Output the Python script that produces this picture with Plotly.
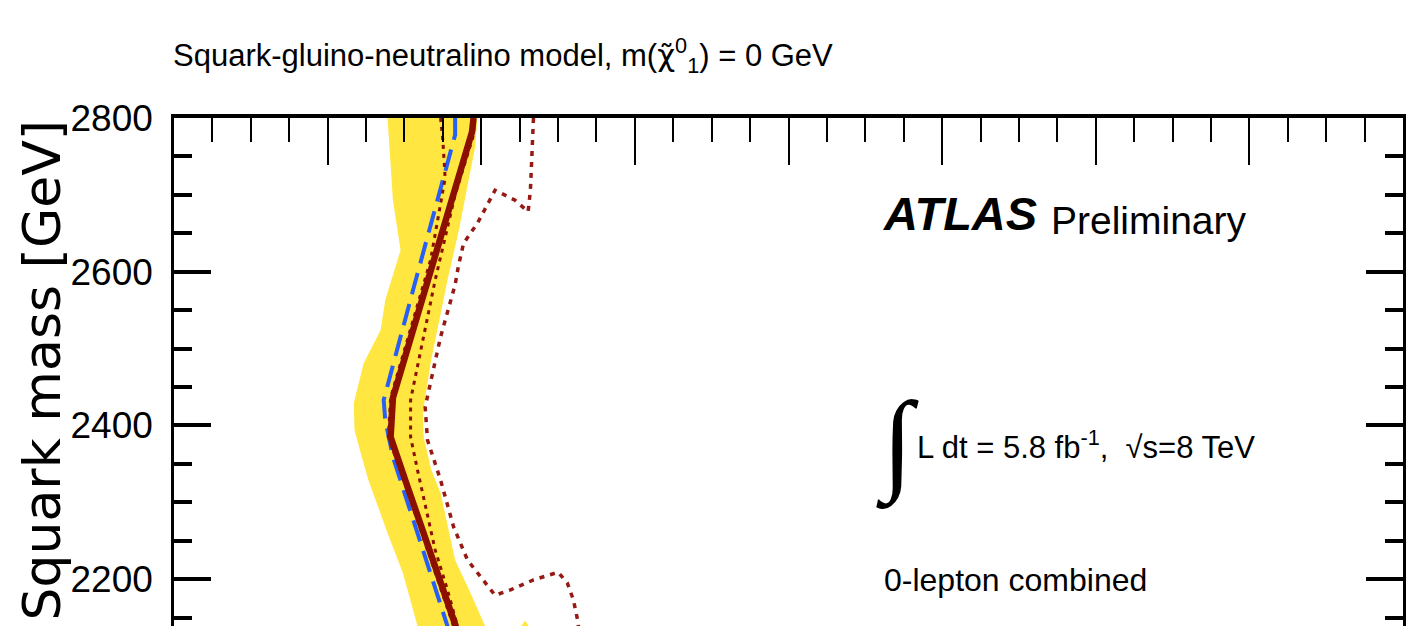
import plotly.graph_objects as go

# ---------------- data (GeV) ----------------
# observed limit (solid)
obs_x = [1190, 1188, 1085, 1082, 1101, 1166, 1173]
obs_y = [2800, 2782, 2436, 2385, 2329, 2139, 2121]
# observed -1 sigma theory (dotted)
obs_dn_x = [1147, 1150, 1153, 1134, 1082, 1079, 1099, 1164, 1170]
obs_dn_y = [2800, 2771, 2722, 2615, 2436, 2385, 2329, 2139, 2121]
# observed +1 sigma theory (dotted)
obs_up_x = [1191, 1190, 1166, 1140, 1108, 1108, 1117, 1130, 1140, 1156, 1169, 1176]
obs_up_y = [2800, 2778, 2700, 2589, 2433, 2385, 2342, 2281, 2238, 2186, 2139, 2121]
# expected limit (dashed)
exp_x = [1166, 1166, 1112, 1073, 1075, 1085, 1156, 1161]
exp_y = [2800, 2778, 2579, 2433, 2407, 2359, 2139, 2121]
# expected +-1 sigma band edges
band_lo_x = [1078, 1085, 1095, 1086, 1075, 1069, 1047, 1034, 1035, 1042, 1053, 1078, 1098, 1117, 1121]
band_lo_y = [2800, 2693, 2628, 2598, 2563, 2524, 2481, 2429, 2394, 2368, 2329, 2260, 2208, 2139, 2121]
band_hi_x = [1195, 1192, 1170, 1156, 1148, 1134, 1124, 1125, 1135, 1147, 1166, 1186, 1205, 1212]
band_hi_y = [2800, 2762, 2650, 2589, 2550, 2481, 2416, 2385, 2342, 2312, 2225, 2182, 2139, 2121]
band_extra_x = [1240, 1257, 1274]
band_extra_y = [2121, 2146, 2121]
# reference dotted contour
ref_x = [1268, 1266, 1264, 1261, 1244, 1218, 1195, 1177, 1170, 1166, 1147, 1127, 1130, 1147, 1164,
         1182, 1199, 1218, 1238, 1268, 1300, 1312, 1320, 1326, 1328]
ref_y = [2800, 2758, 2706, 2678, 2693, 2706, 2663, 2637, 2606, 2583, 2515, 2424, 2381, 2329, 2268,
         2225, 2203, 2179, 2186, 2199, 2209, 2195, 2173, 2144, 2121]

x_range = [800, 2400]
y_range = [2139, 2800]
y_tickvals = [2200, 2400, 2600, 2800]

# ---------------- style ----------------
FONT = "Liberation Sans, Arial, Helvetica, sans-serif"
DARKRED = "rgb(140,16,0)"
L, R, T, B = 174, 19, 118, 0
W, H = 1422, 626
PW, PH = W - L - R, H - T - B


def px(xp):
    return (xp - L) / PW


def py(yp):
    return (H - B - yp) / PH


fig = go.Figure()

band_x = band_lo_x + band_hi_x[::-1] + [band_lo_x[0], None] + band_extra_x
band_y = band_lo_y + band_hi_y[::-1] + [band_lo_y[0], None] + band_extra_y
fig.add_trace(go.Scatter(x=band_x, y=band_y, mode="lines", fill="toself",
                         fillcolor="#FFE640", line=dict(width=0, color="#FFE640"),
                         hoverinfo="skip"))
fig.add_trace(go.Scatter(x=exp_x, y=exp_y, mode="lines",
                         line=dict(color="rgb(40,95,245)", width=4, dash="22px,10px")))
fig.add_trace(go.Scatter(x=obs_dn_x, y=obs_dn_y, mode="lines",
                         line=dict(color=DARKRED, width=3, dash="4px,5px")))
fig.add_trace(go.Scatter(x=obs_up_x, y=obs_up_y, mode="lines",
                         line=dict(color=DARKRED, width=3, dash="4px,5px")))
fig.add_trace(go.Scatter(x=obs_x, y=obs_y, mode="lines",
                         line=dict(color=DARKRED, width=6.5)))
fig.add_trace(go.Scatter(x=ref_x, y=ref_y, mode="lines",
                         line=dict(color="rgb(150,25,20)", width=3.5, dash="5px,6px")))

ann = []
ann.append(dict(text="Squark-gluino-neutralino model, m(<span style=\"font-family:DejaVu Sans\">χ̃</span>"
                     "<sup>0</sup><sub>1</sub>) = 0 GeV",
                x=px(171), y=py(55), xanchor="left", yanchor="middle",
                font=dict(family=FONT, size=31, color="black")))
ann.append(dict(text="<b><i>ATLAS</i></b>", x=px(881), y=py(213), xanchor="left", yanchor="middle",
                font=dict(family=FONT, size=47, color="black")))
ann.append(dict(text="Preliminary", x=px(1049), y=py(220), xanchor="left", yanchor="middle",
                font=dict(family=FONT, size=39, color="black")))
ann.append(dict(text="∫", x=px(897), y=py(444), xanchor="center", yanchor="middle",
                font=dict(family="Liberation Serif, serif", size=112, color="black")))
ann.append(dict(text="L dt = 5.8 fb<sup>-1</sup>,  √s=8 TeV", x=px(915), y=py(445),
                xanchor="left", yanchor="middle",
                font=dict(family=FONT, size=31, color="black")))
ann.append(dict(text="0-lepton combined", x=px(882), y=py(580), xanchor="left", yanchor="middle",
                font=dict(family=FONT, size=32, color="black")))
ann.append(dict(text="Squark mass [GeV]", textangle=-90, x=px(41), y=py(118), xanchor="center",
                yanchor="top", font=dict(family="DejaVu Sans, sans-serif", size=52, color="black")))
for a in ann:
    a.update(xref="paper", yref="paper", showarrow=False)

fig.update_layout(
    width=W, height=H, margin=dict(l=L, r=R, t=T, b=B, pad=0),
    paper_bgcolor="white", plot_bgcolor="white", showlegend=False,
    annotations=ann,
    xaxis=dict(range=x_range, side="top", showline=True, linecolor="black", linewidth=4,
               ticks="inside", ticklen=47, tickwidth=2, tickcolor="black",
               tick0=800, dtick=200, showticklabels=False, showgrid=False, zeroline=False,
               minor=dict(ticks="inside", ticklen=24, tickwidth=2, tickcolor="black",
                          dtick=50, showgrid=False)),
    yaxis=dict(range=y_range, showline=True, linecolor="black", linewidth=2.5, mirror="ticks",
               ticks="inside", ticklen=37, tickwidth=3.5, tickcolor="black",
               tickvals=y_tickvals, ticktext=[str(v) for v in y_tickvals],
               tickfont=dict(family=FONT, size=37, color="black"), ticklabelstandoff=11,
               showgrid=False, zeroline=False,
               minor=dict(ticks="inside", ticklen=18, tickwidth=3.5, tickcolor="black",
                          dtick=50, showgrid=False)),
)

fig.write_html("out.html", config={"displayModeBar": False},
               post_script="document.body.style.margin='0px';document.body.style.overflow='hidden';")
